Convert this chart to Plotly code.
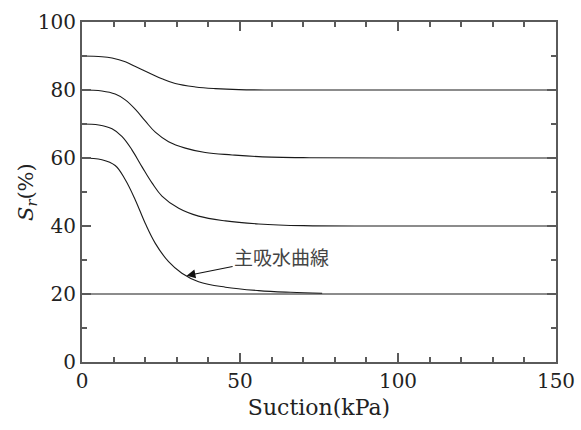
import plotly.graph_objects as go

# Suction (kPa) and degree of saturation Sr (%) for each wetting curve
suction_a = [0, 6.3, 9.5, 13.7, 16.9, 21.1, 25.3, 29.5, 35.9, 42.2, 49.6, 60, 80, 110, 150]
sr_a = [90, 89.8, 89.4, 88.3, 86.9, 85.1, 83.3, 81.9, 80.9, 80.4, 80.1, 80, 80, 80, 80]

suction_b = [0, 6.3, 10.5, 13.7, 16.9, 20, 23.2, 27.4, 32.7, 39, 47.5, 55.9, 70, 100, 150]
sr_b = [80, 79.7, 78.8, 77.1, 74.3, 70.9, 67.6, 64.8, 62.9, 61.6, 60.9, 60.4, 60.1, 60, 60]

suction_c = [0, 5.3, 9.5, 12.7, 15.8, 19, 22.2, 25.3, 30.6, 36.9, 45.4, 55.9, 70, 100, 150]
sr_c = [70, 69.7, 68.6, 66.3, 62.4, 57.4, 52.6, 48.8, 45.2, 42.9, 41.5, 40.6, 40.1, 40, 40]

# Main wetting curve
suction_main = [0, 6.3, 10.5, 13.7, 16.9, 20, 23.2, 27.4, 31.6, 36.9, 45.4, 55.9, 66, 76]
sr_main = [60, 59.5, 57.8, 53.6, 47.6, 40.8, 34.9, 29.5, 26.1, 23.6, 22.0, 21.0, 20.5, 20.2]

# Residual saturation line
suction_res = [0, 150]
sr_res = [20, 20]

# Point on the main wetting curve that the label arrow targets
arrow_suction = 33.1
arrow_sr = 25.4
main_label = "主吸水曲線"

x_ticks = [0, 50, 100, 150]
y_ticks = [0, 20, 40, 60, 80, 100]

line_color = "#1a1a1a"
fig = go.Figure()
for xs, ys in [(suction_a, sr_a), (suction_b, sr_b), (suction_c, sr_c),
               (suction_main, sr_main), (suction_res, sr_res)]:
    fig.add_trace(go.Scatter(
        x=xs, y=ys, mode="lines",
        line=dict(color=line_color, width=1.1, shape="spline", smoothing=1.1),
        showlegend=False, hoverinfo="skip",
    ))

serif = "DejaVu Serif"
text_color = "#222"
frame = "#5a5a5a"
axis_common = dict(
    showline=True, linecolor=frame, linewidth=2, mirror="allticks",
    ticks="inside", ticklen=9, tickwidth=1.5, tickcolor=frame,
    showgrid=False, zeroline=False, automargin=False,
    tickfont=dict(family=serif, size=20, color=text_color),
)
minor_ticks = dict(dtick=10, ticks="inside", ticklen=5, tickwidth=1.5,
                   tickcolor=frame, showgrid=False)

fig.update_xaxes(
    range=[0, 150], tickvals=x_ticks, minor=minor_ticks,
    title=dict(text="Suction(kPa)", font=dict(family=serif, size=22, color=text_color), standoff=8),
    **axis_common,
)
fig.update_yaxes(range=[0, 100], tickvals=y_ticks, minor=minor_ticks, **axis_common)

# Y-axis title, placed close to the tick labels
fig.add_annotation(
    x=0, y=0.5, xref="paper", yref="paper", xanchor="center", yanchor="middle",
    xshift=-55, textangle=-90, showarrow=False,
    text="<i>S</i><sub><i>r</i></sub>(%)",
    font=dict(family=serif, size=21, color=text_color),
)

# Label of the main wetting curve with its arrow
fig.add_annotation(
    x=arrow_suction, y=arrow_sr, xref="x", yref="y",
    ax=95, ay=-19, text=main_label, showarrow=True,
    arrowhead=2, arrowsize=1.6, arrowwidth=1.1, arrowcolor="#111",
    font=dict(family="Noto Sans CJK JP", size=19, color="#444"),
)

fig.update_layout(
    width=581, height=430,
    margin=dict(l=82, r=25, t=22, b=68),
    paper_bgcolor="white", plot_bgcolor="white",
)

fig.write_html("out.html")
